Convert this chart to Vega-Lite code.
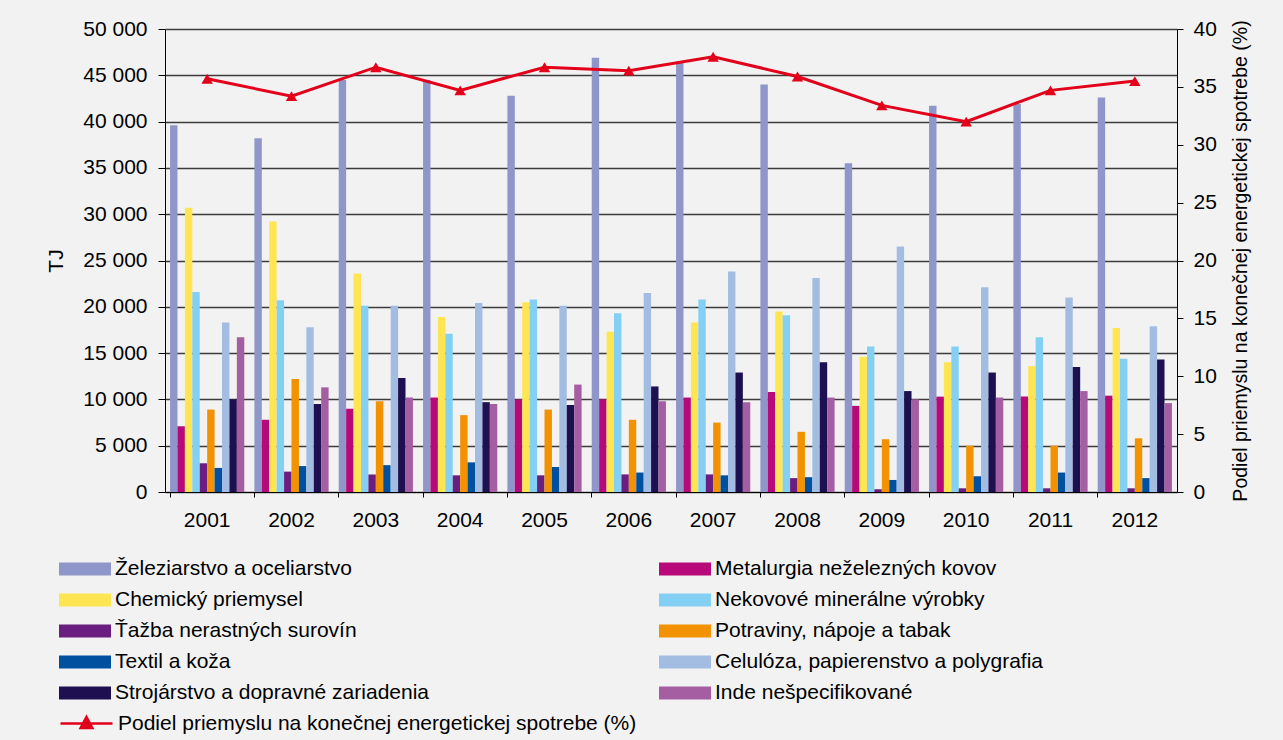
{
  "$schema": "https://vega.github.io/schema/vega-lite/v6.json",
  "width": 1012,
  "height": 463,
  "autosize": {"type": "none"},
  "padding": {"left": 165, "top": 29, "right": 106, "bottom": 248},
  "background": "#f2f2f2",
  "config": {
    "view": {"stroke": null},
    "font": "Liberation Sans",
    "axis": {"labelFont": "Liberation Sans", "titleFont": "Liberation Sans", "labelColor": "#000", "titleColor": "#000", "labelFontSize": 21, "titleFontSize": 21, "titleFontWeight": "normal", "domainColor": "#000", "tickColor": "#000"},
    "legend": {"labelFont": "Liberation Sans", "labelFontSize": 21, "labelColor": "#000", "labelLimit": 700}
  },
  "datasets": {
    "bars": [
      {"rok": "2001", "odvetvie": "Železiarstvo a oceliarstvo", "TJ": 39600},
      {"rok": "2001", "odvetvie": "Metalurgia neželezných kovov", "TJ": 7100},
      {"rok": "2001", "odvetvie": "Chemický priemysel", "TJ": 30700},
      {"rok": "2001", "odvetvie": "Nekovové minerálne výrobky", "TJ": 21600},
      {"rok": "2001", "odvetvie": "Ťažba nerastných surovín", "TJ": 3100},
      {"rok": "2001", "odvetvie": "Potraviny, nápoje a tabak", "TJ": 8900},
      {"rok": "2001", "odvetvie": "Textil a koža", "TJ": 2600},
      {"rok": "2001", "odvetvie": "Celulóza, papierenstvo a polygrafia", "TJ": 18300},
      {"rok": "2001", "odvetvie": "Strojárstvo a dopravné zariadenia", "TJ": 10000},
      {"rok": "2001", "odvetvie": "Inde nešpecifikované", "TJ": 16700},
      {"rok": "2002", "odvetvie": "Železiarstvo a oceliarstvo", "TJ": 38200},
      {"rok": "2002", "odvetvie": "Metalurgia neželezných kovov", "TJ": 7800},
      {"rok": "2002", "odvetvie": "Chemický priemysel", "TJ": 29200},
      {"rok": "2002", "odvetvie": "Nekovové minerálne výrobky", "TJ": 20700},
      {"rok": "2002", "odvetvie": "Ťažba nerastných surovín", "TJ": 2200},
      {"rok": "2002", "odvetvie": "Potraviny, nápoje a tabak", "TJ": 12200},
      {"rok": "2002", "odvetvie": "Textil a koža", "TJ": 2800},
      {"rok": "2002", "odvetvie": "Celulóza, papierenstvo a polygrafia", "TJ": 17800},
      {"rok": "2002", "odvetvie": "Strojárstvo a dopravné zariadenia", "TJ": 9500},
      {"rok": "2002", "odvetvie": "Inde nešpecifikované", "TJ": 11300},
      {"rok": "2003", "odvetvie": "Železiarstvo a oceliarstvo", "TJ": 44500},
      {"rok": "2003", "odvetvie": "Metalurgia neželezných kovov", "TJ": 9000},
      {"rok": "2003", "odvetvie": "Chemický priemysel", "TJ": 23600},
      {"rok": "2003", "odvetvie": "Nekovové minerálne výrobky", "TJ": 20100},
      {"rok": "2003", "odvetvie": "Ťažba nerastných surovín", "TJ": 1900},
      {"rok": "2003", "odvetvie": "Potraviny, nápoje a tabak", "TJ": 9800},
      {"rok": "2003", "odvetvie": "Textil a koža", "TJ": 2900},
      {"rok": "2003", "odvetvie": "Celulóza, papierenstvo a polygrafia", "TJ": 20100},
      {"rok": "2003", "odvetvie": "Strojárstvo a dopravné zariadenia", "TJ": 12300},
      {"rok": "2003", "odvetvie": "Inde nešpecifikované", "TJ": 10200},
      {"rok": "2004", "odvetvie": "Železiarstvo a oceliarstvo", "TJ": 44500},
      {"rok": "2004", "odvetvie": "Metalurgia neželezných kovov", "TJ": 10200},
      {"rok": "2004", "odvetvie": "Chemický priemysel", "TJ": 18900},
      {"rok": "2004", "odvetvie": "Nekovové minerálne výrobky", "TJ": 17100},
      {"rok": "2004", "odvetvie": "Ťažba nerastných surovín", "TJ": 1800},
      {"rok": "2004", "odvetvie": "Potraviny, nápoje a tabak", "TJ": 8300},
      {"rok": "2004", "odvetvie": "Textil a koža", "TJ": 3200},
      {"rok": "2004", "odvetvie": "Celulóza, papierenstvo a polygrafia", "TJ": 20400},
      {"rok": "2004", "odvetvie": "Strojárstvo a dopravné zariadenia", "TJ": 9700},
      {"rok": "2004", "odvetvie": "Inde nešpecifikované", "TJ": 9500},
      {"rok": "2005", "odvetvie": "Železiarstvo a oceliarstvo", "TJ": 42800},
      {"rok": "2005", "odvetvie": "Metalurgia neželezných kovov", "TJ": 10000},
      {"rok": "2005", "odvetvie": "Chemický priemysel", "TJ": 20500},
      {"rok": "2005", "odvetvie": "Nekovové minerálne výrobky", "TJ": 20800},
      {"rok": "2005", "odvetvie": "Ťažba nerastných surovín", "TJ": 1800},
      {"rok": "2005", "odvetvie": "Potraviny, nápoje a tabak", "TJ": 8900},
      {"rok": "2005", "odvetvie": "Textil a koža", "TJ": 2700},
      {"rok": "2005", "odvetvie": "Celulóza, papierenstvo a polygrafia", "TJ": 20100},
      {"rok": "2005", "odvetvie": "Strojárstvo a dopravné zariadenia", "TJ": 9400},
      {"rok": "2005", "odvetvie": "Inde nešpecifikované", "TJ": 11600},
      {"rok": "2006", "odvetvie": "Železiarstvo a oceliarstvo", "TJ": 46900},
      {"rok": "2006", "odvetvie": "Metalurgia neželezných kovov", "TJ": 10000},
      {"rok": "2006", "odvetvie": "Chemický priemysel", "TJ": 17300},
      {"rok": "2006", "odvetvie": "Nekovové minerálne výrobky", "TJ": 19300},
      {"rok": "2006", "odvetvie": "Ťažba nerastných surovín", "TJ": 1900},
      {"rok": "2006", "odvetvie": "Potraviny, nápoje a tabak", "TJ": 7800},
      {"rok": "2006", "odvetvie": "Textil a koža", "TJ": 2100},
      {"rok": "2006", "odvetvie": "Celulóza, papierenstvo a polygrafia", "TJ": 21500},
      {"rok": "2006", "odvetvie": "Strojárstvo a dopravné zariadenia", "TJ": 11400},
      {"rok": "2006", "odvetvie": "Inde nešpecifikované", "TJ": 9800},
      {"rok": "2007", "odvetvie": "Železiarstvo a oceliarstvo", "TJ": 46500},
      {"rok": "2007", "odvetvie": "Metalurgia neželezných kovov", "TJ": 10200},
      {"rok": "2007", "odvetvie": "Chemický priemysel", "TJ": 18300},
      {"rok": "2007", "odvetvie": "Nekovové minerálne výrobky", "TJ": 20800},
      {"rok": "2007", "odvetvie": "Ťažba nerastných surovín", "TJ": 1900},
      {"rok": "2007", "odvetvie": "Potraviny, nápoje a tabak", "TJ": 7500},
      {"rok": "2007", "odvetvie": "Textil a koža", "TJ": 1800},
      {"rok": "2007", "odvetvie": "Celulóza, papierenstvo a polygrafia", "TJ": 23800},
      {"rok": "2007", "odvetvie": "Strojárstvo a dopravné zariadenia", "TJ": 12900},
      {"rok": "2007", "odvetvie": "Inde nešpecifikované", "TJ": 9700},
      {"rok": "2008", "odvetvie": "Železiarstvo a oceliarstvo", "TJ": 44000},
      {"rok": "2008", "odvetvie": "Metalurgia neželezných kovov", "TJ": 10800},
      {"rok": "2008", "odvetvie": "Chemický priemysel", "TJ": 19500},
      {"rok": "2008", "odvetvie": "Nekovové minerálne výrobky", "TJ": 19100},
      {"rok": "2008", "odvetvie": "Ťažba nerastných surovín", "TJ": 1500},
      {"rok": "2008", "odvetvie": "Potraviny, nápoje a tabak", "TJ": 6500},
      {"rok": "2008", "odvetvie": "Textil a koža", "TJ": 1600},
      {"rok": "2008", "odvetvie": "Celulóza, papierenstvo a polygrafia", "TJ": 23100},
      {"rok": "2008", "odvetvie": "Strojárstvo a dopravné zariadenia", "TJ": 14000},
      {"rok": "2008", "odvetvie": "Inde nešpecifikované", "TJ": 10200},
      {"rok": "2009", "odvetvie": "Železiarstvo a oceliarstvo", "TJ": 35500},
      {"rok": "2009", "odvetvie": "Metalurgia neželezných kovov", "TJ": 9300},
      {"rok": "2009", "odvetvie": "Chemický priemysel", "TJ": 14600},
      {"rok": "2009", "odvetvie": "Nekovové minerálne výrobky", "TJ": 15700},
      {"rok": "2009", "odvetvie": "Ťažba nerastných surovín", "TJ": 300},
      {"rok": "2009", "odvetvie": "Potraviny, nápoje a tabak", "TJ": 5700},
      {"rok": "2009", "odvetvie": "Textil a koža", "TJ": 1300},
      {"rok": "2009", "odvetvie": "Celulóza, papierenstvo a polygrafia", "TJ": 26500},
      {"rok": "2009", "odvetvie": "Strojárstvo a dopravné zariadenia", "TJ": 10900},
      {"rok": "2009", "odvetvie": "Inde nešpecifikované", "TJ": 10000},
      {"rok": "2010", "odvetvie": "Železiarstvo a oceliarstvo", "TJ": 41700},
      {"rok": "2010", "odvetvie": "Metalurgia neželezných kovov", "TJ": 10300},
      {"rok": "2010", "odvetvie": "Chemický priemysel", "TJ": 14000},
      {"rok": "2010", "odvetvie": "Nekovové minerálne výrobky", "TJ": 15700},
      {"rok": "2010", "odvetvie": "Ťažba nerastných surovín", "TJ": 400},
      {"rok": "2010", "odvetvie": "Potraviny, nápoje a tabak", "TJ": 5000},
      {"rok": "2010", "odvetvie": "Textil a koža", "TJ": 1700},
      {"rok": "2010", "odvetvie": "Celulóza, papierenstvo a polygrafia", "TJ": 22100},
      {"rok": "2010", "odvetvie": "Strojárstvo a dopravné zariadenia", "TJ": 12900},
      {"rok": "2010", "odvetvie": "Inde nešpecifikované", "TJ": 10200},
      {"rok": "2011", "odvetvie": "Železiarstvo a oceliarstvo", "TJ": 41900},
      {"rok": "2011", "odvetvie": "Metalurgia neželezných kovov", "TJ": 10300},
      {"rok": "2011", "odvetvie": "Chemický priemysel", "TJ": 13600},
      {"rok": "2011", "odvetvie": "Nekovové minerálne výrobky", "TJ": 16700},
      {"rok": "2011", "odvetvie": "Ťažba nerastných surovín", "TJ": 400},
      {"rok": "2011", "odvetvie": "Potraviny, nápoje a tabak", "TJ": 5000},
      {"rok": "2011", "odvetvie": "Textil a koža", "TJ": 2100},
      {"rok": "2011", "odvetvie": "Celulóza, papierenstvo a polygrafia", "TJ": 21000},
      {"rok": "2011", "odvetvie": "Strojárstvo a dopravné zariadenia", "TJ": 13500},
      {"rok": "2011", "odvetvie": "Inde nešpecifikované", "TJ": 10900},
      {"rok": "2012", "odvetvie": "Železiarstvo a oceliarstvo", "TJ": 42600},
      {"rok": "2012", "odvetvie": "Metalurgia neželezných kovov", "TJ": 10400},
      {"rok": "2012", "odvetvie": "Chemický priemysel", "TJ": 17700},
      {"rok": "2012", "odvetvie": "Nekovové minerálne výrobky", "TJ": 14400},
      {"rok": "2012", "odvetvie": "Ťažba nerastných surovín", "TJ": 400},
      {"rok": "2012", "odvetvie": "Potraviny, nápoje a tabak", "TJ": 5800},
      {"rok": "2012", "odvetvie": "Textil a koža", "TJ": 1500},
      {"rok": "2012", "odvetvie": "Celulóza, papierenstvo a polygrafia", "TJ": 17900},
      {"rok": "2012", "odvetvie": "Strojárstvo a dopravné zariadenia", "TJ": 14300},
      {"rok": "2012", "odvetvie": "Inde nešpecifikované", "TJ": 9600}
    ],
    "podiel": [
      {"rok": "2001", "p": 35.7, "s": "Podiel priemyslu na konečnej energetickej spotrebe (%)"},
      {"rok": "2002", "p": 34.2, "s": "Podiel priemyslu na konečnej energetickej spotrebe (%)"},
      {"rok": "2003", "p": 36.7, "s": "Podiel priemyslu na konečnej energetickej spotrebe (%)"},
      {"rok": "2004", "p": 34.7, "s": "Podiel priemyslu na konečnej energetickej spotrebe (%)"},
      {"rok": "2005", "p": 36.7, "s": "Podiel priemyslu na konečnej energetickej spotrebe (%)"},
      {"rok": "2006", "p": 36.4, "s": "Podiel priemyslu na konečnej energetickej spotrebe (%)"},
      {"rok": "2007", "p": 37.6, "s": "Podiel priemyslu na konečnej energetickej spotrebe (%)"},
      {"rok": "2008", "p": 35.9, "s": "Podiel priemyslu na konečnej energetickej spotrebe (%)"},
      {"rok": "2009", "p": 33.4, "s": "Podiel priemyslu na konečnej energetickej spotrebe (%)"},
      {"rok": "2010", "p": 32.0, "s": "Podiel priemyslu na konečnej energetickej spotrebe (%)"},
      {"rok": "2011", "p": 34.7, "s": "Podiel priemyslu na konečnej energetickej spotrebe (%)"},
      {"rok": "2012", "p": 35.5, "s": "Podiel priemyslu na konečnej energetickej spotrebe (%)"}
    ]
  },
  "resolve": {"scale": {"y": "independent"}},
  "layer": [
    {
      "data": {"name": "bars"},
      "mark": {"type": "bar"},
      "encoding": {
        "x": {"field": "rok", "type": "nominal", "title": null,
          "scale": {"paddingInner": 0.12, "paddingOuter": 0.06},
          "axis": {"bandPosition": 0, "labelAngle": 0, "tickSize": 5, "labelPadding": 12, "domainWidth": 1, "labelBaseline": "top"}},
        "xOffset": {"field": "odvetvie", "type": "nominal",
          "sort": ["Železiarstvo a oceliarstvo", "Metalurgia neželezných kovov", "Chemický priemysel", "Nekovové minerálne výrobky", "Ťažba nerastných surovín", "Potraviny, nápoje a tabak", "Textil a koža", "Celulóza, papierenstvo a polygrafia", "Strojárstvo a dopravné zariadenia", "Inde nešpecifikované"],
          "scale": {"paddingInner": 0, "paddingOuter": 0}},
        "y": {"field": "TJ", "type": "quantitative", "title": "TJ",
          "scale": {"domain": [0, 50000]},
          "axis": {"values": [0, 5000, 10000, 15000, 20000, 25000, 30000, 35000, 40000, 45000, 50000],
            "labelExpr": "replace(format(datum.value, ','), ',', ' ')",
            "grid": true, "gridColor": "#3c3c3c", "gridWidth": 1.5, "tickSize": 7, "labelPadding": 11, "titlePadding": 16}},
        "color": {"field": "odvetvie", "type": "nominal", "title": null,
          "sort": ["Železiarstvo a oceliarstvo", "Metalurgia neželezných kovov", "Chemický priemysel", "Nekovové minerálne výrobky", "Ťažba nerastných surovín", "Potraviny, nápoje a tabak", "Textil a koža", "Celulóza, papierenstvo a polygrafia", "Strojárstvo a dopravné zariadenia", "Inde nešpecifikované"],
          "scale": {"domain": ["Železiarstvo a oceliarstvo", "Metalurgia neželezných kovov", "Chemický priemysel", "Nekovové minerálne výrobky", "Ťažba nerastných surovín", "Potraviny, nápoje a tabak", "Textil a koža", "Celulóza, papierenstvo a polygrafia", "Strojárstvo a dopravné zariadenia", "Inde nešpecifikované"],
            "range": ["#8f96c9", "#b8097a", "#ffe552", "#84d0f4", "#6a1f80", "#f39200", "#0050a0", "#a3bde2", "#1e1050", "#a65ea2"]},
          "legend": {"orient": "none", "legendX": -93, "legendY": 527, "direction": "horizontal", "columns": 2, "columnPadding": 229, "rowPadding": 8,
            "symbolType": "M-2,-0.5H2V0.5H-2Z", "symbolSize": 676, "symbolStrokeWidth": 0, "labelOffset": 17}}
      }
    },
    {
      "data": {"name": "podiel"},
      "layer": [
        {
          "mark": {"type": "line", "color": "#e2001a", "strokeWidth": 3},
          "encoding": {
            "x": {"field": "rok", "type": "nominal"},
            "y": {"field": "p", "type": "quantitative", "title": "Podiel priemyslu na konečnej energetickej spotrebe (%)",
              "scale": {"domain": [0, 40]},
              "axis": {"orient": "right", "values": [0, 5, 10, 15, 20, 25, 30, 35, 40], "grid": false, "tickSize": 6, "labelPadding": 10, "titleAngle": -90, "titlePadding": 34, "titleFontSize": 19.5}},
            "stroke": {"field": "s", "type": "nominal", "title": null,
              "scale": {"range": ["#e2001a"]},
              "legend": {"orient": "none", "legendX": -93, "legendY": 680,
                "symbolType": "M-2,0H2M0,-0.5L0.45,0.35L-0.45,0.35Z", "symbolSize": 676, "symbolStrokeWidth": 2.5, "symbolFillColor": "#e2001a", "labelOffset": 17}}
          }
        },
        {
          "mark": {"type": "point", "shape": "triangle-up", "filled": true, "color": "#e2001a", "size": 130, "opacity": 1},
          "encoding": {
            "x": {"field": "rok", "type": "nominal"},
            "y": {"field": "p", "type": "quantitative"}
          }
        }
      ]
    }
  ]
}
